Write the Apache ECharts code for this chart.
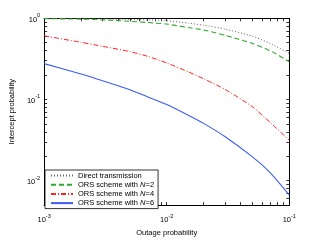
<!DOCTYPE html>
<html><head><meta charset="utf-8">
<script src="https://cdn.jsdelivr.net/npm/echarts@6/dist/echarts.min.js"></script>
<style>html,body{margin:0;padding:0;background:#fff}#c{width:321px;height:242px}</style>
</head><body><div id="c"></div>
<script>
const outage = [0.001,0.002,0.003,0.005,0.007,0.01,0.015,0.02,0.03,0.05,0.07,0.1];
const directTx = [0.995,0.99,0.984,0.968,0.955,0.933,0.871,0.822,0.736,0.603,0.49,0.37];
const orsN2 = [0.99,0.977,0.959,0.918,0.887,0.849,0.769,0.719,0.617,0.49,0.398,0.292];
const orsN4 = [0.608,0.506,0.452,0.389,0.340,0.282,0.219,0.180,0.133,0.0813,0.0519,0.0315];
const orsN6 = [0.2767,0.2056,0.1698,0.1315,0.1076,0.0867,0.064,0.0508,0.0347,0.0196,0.0125,0.00667];
const seriesNames = ['Direct transmission','ORS scheme with N=2','ORS scheme with N=4','ORS scheme with N=6'];
const xMajor = [0.001,0.01,0.1];
const yMajor = [0.01,0.1,1];
const xTicks = [0.001,0.002,0.003,0.004,0.005,0.006,0.007,0.008,0.009,0.01,0.02,0.03,0.04,0.05,0.06,0.07,0.08,0.09,0.1];
const yTicks = [0.005,0.006,0.007,0.008,0.009,0.01,0.02,0.03,0.04,0.05,0.06,0.07,0.08,0.09,0.1,0.2,0.3,0.4,0.5,0.6,0.7,0.8,0.9,1];

const FONT = 'Liberation Sans, Arial, sans-serif';
function pow10(v){
  const e = Math.round(Math.log10(v));
  return '{b|10}{s|' + e + '}';
}
const richLab = {
  b:{fontSize:7.5,fontFamily:FONT,color:'#000',lineHeight:11,verticalAlign:'bottom'},
  s:{fontSize:5.5,fontFamily:FONT,color:'#000',lineHeight:6,verticalAlign:'top'}
};
const axisLineStyle = {show:true,lineStyle:{color:'#000',width:1}};
const tickStyle = {show:true,inside:true,length:3,lineStyle:{color:'#000',width:0.8}};
function pts(ys){ return outage.map((x,i)=>[x,ys[i]]); }

const chart = echarts.init(document.getElementById('c'),null,{renderer:'canvas'});
chart.setOption({
  backgroundColor:'#fff',
  animation:false,
  grid:{left:41.5,top:18.3,width:247.8,height:195,containLabel:false},
  xAxis:[
    {type:'log',logBase:10,min:0.001,max:0.1,position:'bottom',
     axisLine:axisLineStyle,
     axisTick:Object.assign({customValues:xTicks},tickStyle),
     axisLabel:{customValues:xMajor,formatter:pow10,rich:richLab,margin:8},
     splitLine:{show:false},minorTick:{show:false},
     name:'Outage probability',nameLocation:'middle',nameGap:16,
     nameTextStyle:{fontSize:7.5,fontFamily:FONT,color:'#000'}},
    {type:'log',logBase:10,min:0.001,max:0.1,position:'top',
     axisLine:axisLineStyle,
     axisTick:Object.assign({customValues:xTicks},tickStyle),
     axisLabel:{show:false},splitLine:{show:false}}
  ],
  yAxis:[
    {type:'log',logBase:10,min:0.005,max:1,position:'left',
     axisLine:axisLineStyle,
     axisTick:Object.assign({customValues:yTicks},tickStyle),
     axisLabel:{customValues:yMajor,formatter:pow10,rich:richLab,margin:4},
     splitLine:{show:false},
     name:'Intercept probability',nameLocation:'middle',nameGap:14,nameRotate:90,
     nameTextStyle:{fontSize:7.5,fontFamily:FONT,color:'#000'}},
    {type:'log',logBase:10,min:0.005,max:1,position:'right',
     axisLine:axisLineStyle,
     axisTick:Object.assign({customValues:yTicks},tickStyle),
     axisLabel:{show:false},splitLine:{show:false}}
  ],
  legend:{
    orient:'vertical',left:45,top:170,
    data:seriesNames,
    itemWidth:22,itemHeight:9,itemGap:1.2,
    padding:[1.5,4,1.5,5],
    backgroundColor:'#fff',borderColor:'#000',borderWidth:0.8,borderRadius:0,
    selectedMode:false,
    itemStyle:{opacity:0},
    formatter:function(name){
      const k = name.indexOf('N=');
      if(k>=0){ return '{t|'+name.slice(0,k)+'}{i|N}{t|'+name.slice(k+1)+'}'; }
      return '{t|'+name+'}';
    },
    textStyle:{fontSize:7.5,fontFamily:FONT,color:'#000',
      rich:{t:{fontSize:7.5,fontFamily:FONT,color:'#000'},
            i:{fontSize:7.5,fontFamily:FONT,fontStyle:'italic',color:'#000'}}}
  },
  series:[
    {name:seriesNames[0],type:'line',data:pts(directTx),symbol:'none',smooth:0.2,
     lineStyle:{color:'#666',width:1,type:[1,2]},itemStyle:{color:'#666'}},
    {name:seriesNames[1],type:'line',data:pts(orsN2),symbol:'none',smooth:0.2,
     lineStyle:{color:'#2eaa2e',width:1.1,type:[5,3]},itemStyle:{color:'#2eaa2e'}},
    {name:seriesNames[2],type:'line',data:pts(orsN4),symbol:'none',smooth:0.2,
     lineStyle:{color:'#ff2020',width:1,type:[5,2,1,2]},itemStyle:{color:'#ff2020'}},
    {name:seriesNames[3],type:'line',data:pts(orsN6),symbol:'none',smooth:0.2,
     lineStyle:{color:'#3a5cf5',width:1.1},itemStyle:{color:'#3a5cf5'}}
  ]
});
</script></body></html>
